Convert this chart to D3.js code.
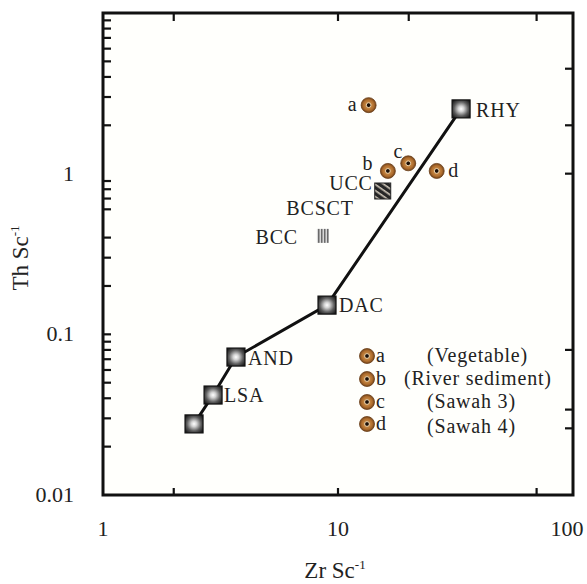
<!DOCTYPE html>
<html>
<head>
<meta charset="utf-8">
<script src="https://cdn.jsdelivr.net/npm/d3@7"></script>
<style>
  body { margin: 0; background: #fff; }
  svg { display: block; font-family: "Liberation Serif", "Times New Roman", serif; }
</style>
</head>
<body>
<svg id="chart" width="587" height="584"></svg>
<script>
// reference rocks on the trend line (Zr/Sc, Th/Sc)
const trendNames = ['', 'LSA', 'AND', 'DAC', 'RHY']
const trendZr = [2.44, 2.94, 3.68, 8.98, 33.4]
const trendTh = [0.0277, 0.0419, 0.0722, 0.152, 2.53]

// crust references
const crustNames = ['UCC', 'BCC']
const crustZr = [15.5, 8.63]
const crustTh = [0.78, 0.41]

// samples
const sampleNames = ['a', 'b', 'c', 'd']
const sampleZr = [13.5, 16.3, 19.9, 26.3]
const sampleTh = [2.67, 1.04, 1.16, 1.04]
const sampleLegend = ['(Vegetable)', '(River sediment)', '(Sawah 3)', '(Sawah 4)']

// axis ticks
const xTickLabels = [1, 10, 100]
const xTicksBottom = [2, 10, 70]
const xTicksTop = [2, 10, 20, 70]
const yTickLabels = [0.01, 0.1, 1]
const yTicksLeft = [2, 3, 4, 5, 6, 7, 8, 9, 0.2, 0.3, 0.4, 0.6, 0.7, 0.8, 0.9,
                    0.1, 0.09, 0.08, 0.07, 0.06, 0.05, 0.04, 0.03, 0.02]
const yTicksRight = [4.5, 2, 1, 0.08, 0.034, 0.026]

const svg = d3.select('#chart')
const plot = { left: 103, right: 573, top: 13, bottom: 495 }

const x = d3.scaleLog().domain([1, 100]).range([plot.left, plot.right])
const y = d3.scaleLog().domain([0.01, 10]).range([plot.bottom, plot.top])

const defs = svg.append('defs')
const sq = defs.append('radialGradient').attr('id', 'sqGrad')
    .attr('cx', '50%').attr('cy', '50%').attr('r', '62%')
sq.append('stop').attr('offset', '0%').attr('stop-color', '#ffffff')
sq.append('stop').attr('offset', '25%').attr('stop-color', '#d2d2d2')
sq.append('stop').attr('offset', '65%').attr('stop-color', '#5a5a5a')
sq.append('stop').attr('offset', '100%').attr('stop-color', '#1a1a1a')

const br = defs.append('radialGradient').attr('id', 'brGrad')
    .attr('cx', '50%').attr('cy', '50%').attr('r', '50%')
br.append('stop').attr('offset', '0%').attr('stop-color', '#dba35c')
br.append('stop').attr('offset', '70%').attr('stop-color', '#b06e2e')
br.append('stop').attr('offset', '100%').attr('stop-color', '#74441a')

const ucc = defs.append('pattern').attr('id', 'uccPat')
    .attr('width', 5).attr('height', 5).attr('patternUnits', 'userSpaceOnUse')
    .attr('patternTransform', 'rotate(35)')
ucc.append('rect').attr('width', 5).attr('height', 5).attr('fill', '#262626')
ucc.append('rect').attr('width', 5).attr('height', 1.6).attr('fill', '#cfc6b8')

const bcc = defs.append('pattern').attr('id', 'bccPat')
    .attr('width', 3).attr('height', 4).attr('patternUnits', 'userSpaceOnUse')
bcc.append('rect').attr('width', 3).attr('height', 4).attr('fill', '#d8d8d8')
bcc.append('rect').attr('width', 1.5).attr('height', 4).attr('fill', '#6a6a6a')

// plot background
svg.append('rect')
    .attr('x', plot.left).attr('y', plot.top)
    .attr('width', plot.right - plot.left).attr('height', plot.bottom - plot.top)
    .attr('fill', '#fffffc')

// ticks (all pointing inward)
const tickG = svg.append('g').attr('stroke', '#111').attr('stroke-width', 2.2)
tickG.selectAll('.tl').data(yTicksLeft).join('line')
    .attr('x1', plot.left).attr('x2', plot.left + 8)
    .attr('y1', d => y(d)).attr('y2', d => y(d))
tickG.selectAll('.tr').data(yTicksRight).join('line')
    .attr('x1', plot.right).attr('x2', plot.right - 8)
    .attr('y1', d => y(d)).attr('y2', d => y(d))
tickG.selectAll('.tb').data(xTicksBottom).join('line')
    .attr('x1', d => x(d)).attr('x2', d => x(d))
    .attr('y1', plot.bottom).attr('y2', plot.bottom - 7)
tickG.selectAll('.tt').data(xTicksTop).join('line')
    .attr('x1', d => x(d)).attr('x2', d => x(d))
    .attr('y1', plot.top).attr('y2', plot.top + 8)

// frame
svg.append('rect')
    .attr('x', plot.left).attr('y', plot.top)
    .attr('width', plot.right - plot.left).attr('height', plot.bottom - plot.top)
    .attr('fill', 'none').attr('stroke', '#111').attr('stroke-width', 3)

// tick labels
svg.selectAll('.xl').data(xTickLabels).join('text')
    .attr('x', d => Math.min(x(d), 567)).attr('y', 536)
    .attr('text-anchor', 'middle').attr('font-size', 22).attr('fill', '#222')
    .text(d => d)
svg.selectAll('.yl').data(yTickLabels).join('text')
    .attr('x', 74).attr('y', d => y(d) + 7)
    .attr('text-anchor', 'end').attr('font-size', 22).attr('fill', '#222')
    .text(d => d)

// axis titles
const xt = svg.append('text').attr('x', 335).attr('y', 578)
    .attr('text-anchor', 'middle').attr('font-size', 23).attr('fill', '#222')
xt.append('tspan').text('Zr Sc')
xt.append('tspan').attr('dy', -9).attr('font-size', 13).text('-1')

const yt = svg.append('text')
    .attr('transform', 'translate(28,258) rotate(-90)')
    .attr('text-anchor', 'middle').attr('font-size', 23).attr('fill', '#222')
yt.append('tspan').text('Th Sc')
yt.append('tspan').attr('dy', -9).attr('font-size', 13).text('-1')

// trend line
const trend = trendZr.map((v, i) => ({ name: trendNames[i], zr: v, th: trendTh[i] }))
svg.append('path').datum(trend)
    .attr('d', d3.line().x(d => x(d.zr)).y(d => y(d.th)))
    .attr('fill', 'none').attr('stroke', '#111').attr('stroke-width', 3)

const S = 18
svg.selectAll('.sq').data(trend).join('rect')
    .attr('x', d => x(d.zr) - S / 2).attr('y', d => y(d.th) - S / 2)
    .attr('width', S).attr('height', S)
    .attr('fill', 'url(#sqGrad)').attr('stroke', '#111').attr('stroke-width', 1.2)

const labelOffset = {
    LSA: [11, 7, 'start'], AND: [12, 8, 'start'], DAC: [12, 7, 'start'], RHY: [15, 8, 'start'],
    UCC: [-10, -1, 'end'], BCSCT: [-29, 24, 'end'], BCC: [-25, 8, 'end']
}
const lab = svg.append('g').attr('font-size', 20).attr('fill', '#222')
    .attr('letter-spacing', 0.8)
trend.filter(d => d.name).forEach(d => {
    const o = labelOffset[d.name]
    lab.append('text').attr('x', x(d.zr) + o[0]).attr('y', y(d.th) + o[1])
        .attr('text-anchor', o[2]).text(d.name)
})

// crust markers
svg.append('rect')
    .attr('x', x(crustZr[0]) - 8).attr('y', y(crustTh[0]) - 8)
    .attr('width', 16).attr('height', 16)
    .attr('fill', 'url(#uccPat)').attr('stroke', '#222').attr('stroke-width', 1)
svg.append('rect')
    .attr('x', x(crustZr[1]) - 6).attr('y', y(crustTh[1]) - 7)
    .attr('width', 12).attr('height', 14)
    .attr('fill', 'url(#bccPat)')
crustNames.forEach((n, i) => {
    const o = labelOffset[n]
    lab.append('text').attr('x', x(crustZr[i]) + o[0]).attr('y', y(crustTh[i]) + o[1])
        .attr('text-anchor', o[2]).text(n)
})
{
    const o = labelOffset.BCSCT
    lab.append('text').attr('x', x(crustZr[0]) + o[0]).attr('y', y(crustTh[0]) + o[1])
        .attr('text-anchor', o[2]).text('BCSCT')
}

// sample markers
function bead(g, cx, cy) {
    g.append('circle').attr('cx', cx).attr('cy', cy).attr('r', 7.5)
        .attr('fill', 'url(#brGrad)').attr('stroke', '#6a3e18').attr('stroke-width', 0.8)
    g.append('circle').attr('cx', cx).attr('cy', cy).attr('r', 2.4)
        .attr('fill', '#1a0e06').attr('stroke', '#f1d6ae').attr('stroke-width', 1)
}
const samp = svg.append('g')
sampleNames.forEach((n, i) => bead(samp, x(sampleZr[i]), y(sampleTh[i])))
const sampleOffset = { a: [-16, 6], b: [-20, -1], c: [-10, -5], d: [17, 6] }
sampleNames.forEach((n, i) => {
    const o = sampleOffset[n]
    lab.append('text').attr('x', x(sampleZr[i]) + o[0]).attr('y', y(sampleTh[i]) + o[1])
        .attr('text-anchor', 'middle').text(n)
})

// legend
const legendRowY = [356, 379, 402, 424]
const legendTextX = [427, 404, 427, 427]
const legend = svg.append('g')
sampleNames.forEach((n, i) => {
    bead(legend, 367, legendRowY[i])
    lab.append('text').attr('x', 376).attr('y', legendRowY[i] + 6).text(n)
    lab.append('text').attr('x', legendTextX[i]).attr('y', legendRowY[i] + 6 + (i === 3 ? 3 : 0))
        .text(sampleLegend[i])
})
</script>
</body>
</html>
